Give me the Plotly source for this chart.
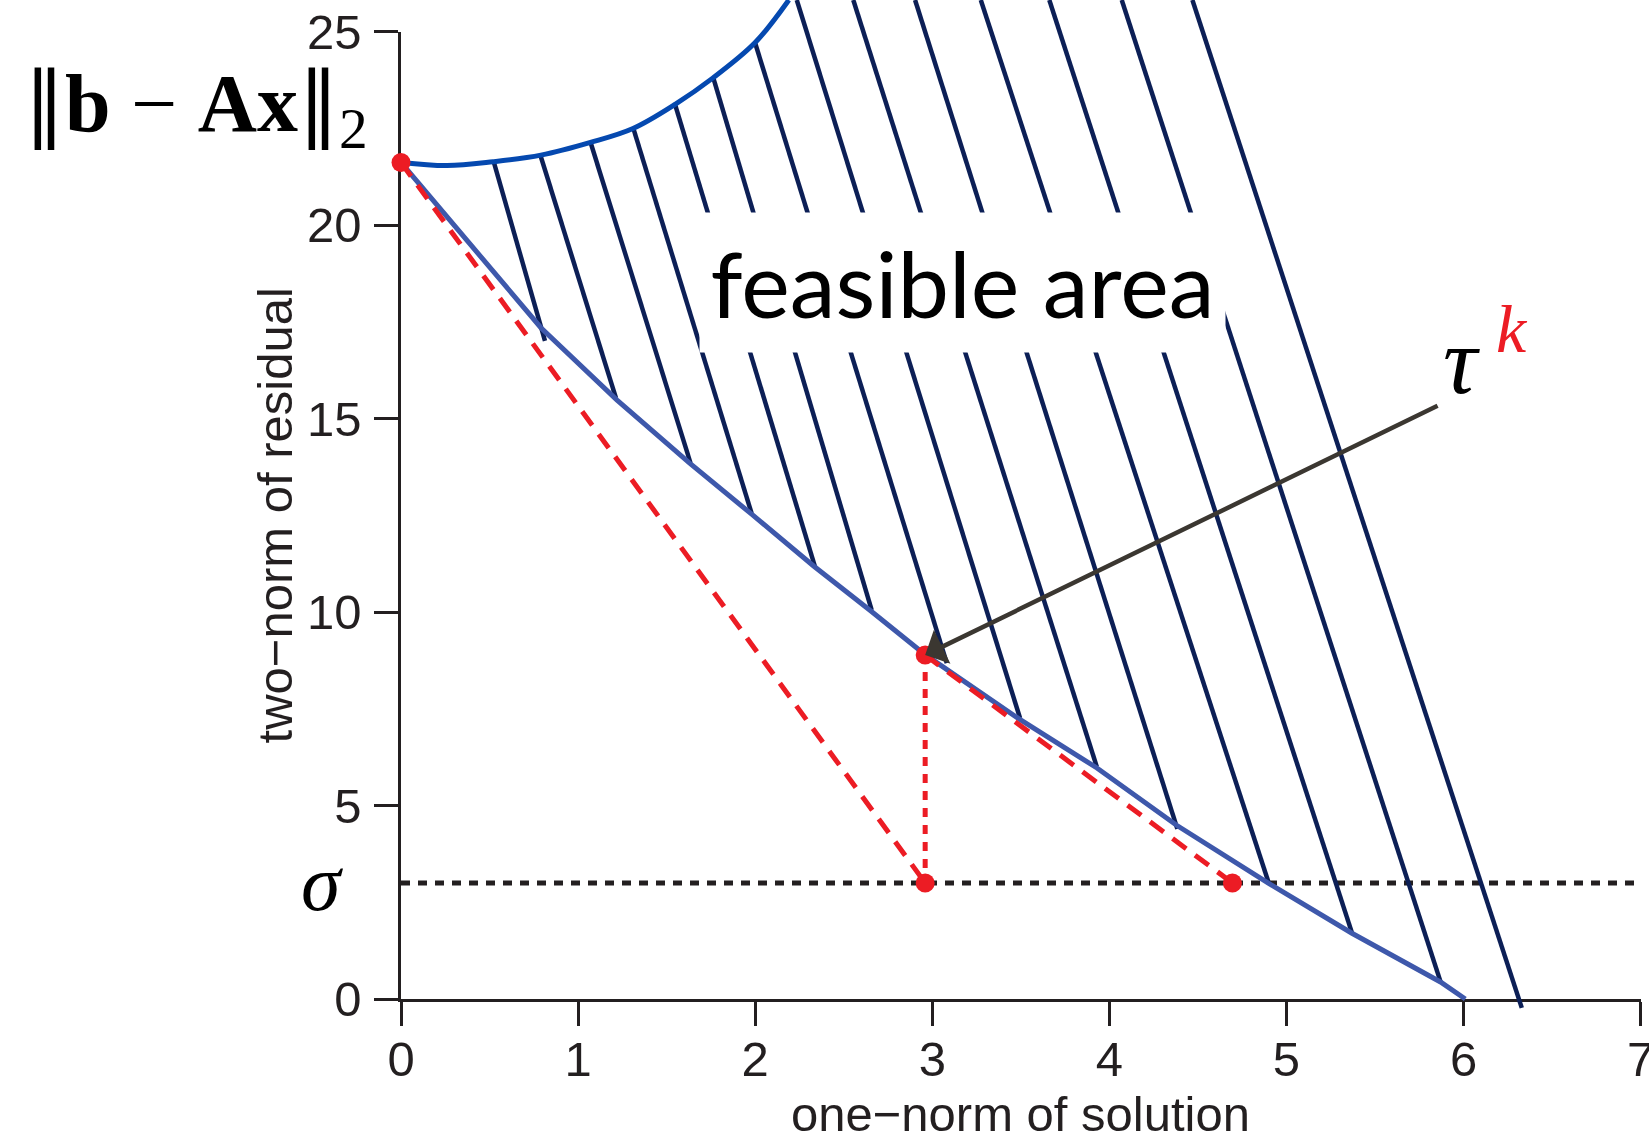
import plotly.graph_objects as go

W, H = 1649, 1136

# ---------------- data ----------------
x_tick_vals = [0, 1, 2, 3, 4, 5, 6, 7]
y_tick_vals = [0, 5, 10, 15, 20, 25]

sigma = 3.0
x_end = 7.0

# Pareto curve (lower boundary)
pareto_x = [0.00, 0.79, 1.22, 1.63, 1.98, 2.33, 2.65, 2.96, 3.49, 3.93, 4.38, 4.90, 5.37, 5.87, 6.01]
pareto_y = [21.62, 17.35, 15.48, 13.85, 12.53, 11.19, 10.04, 8.90, 7.24, 5.97, 4.49, 2.99, 1.70, 0.44, 0.00]

# upper boundary curve
upper_x = [0.00, 0.26, 0.52, 0.79, 1.07, 1.31, 1.55, 1.76, 2.00, 2.19]
upper_y = [21.62, 21.54, 21.64, 21.81, 22.14, 22.50, 23.13, 23.80, 24.72, 25.82]

# hatch segments (top end -> bottom end)
hatch_top_x = [0.521, 0.789, 1.071, 1.312, 1.547, 1.764, 1.999, 2.235, 2.554, 2.903, 3.274, 3.661, 4.070, 4.469]
hatch_top_y = [21.68, 21.78, 22.13, 22.50, 23.13, 23.80, 24.72, 25.82, 25.82, 25.82, 25.82, 25.82, 25.82, 25.82]
hatch_bot_x = [0.813, 1.214, 1.635, 1.980, 2.338, 2.658, 3.082, 3.496, 3.929, 4.384, 4.902, 5.372, 5.871, 6.329]
hatch_bot_y = [17.01, 15.53, 13.85, 12.55, 11.17, 10.05, 8.68, 7.255, 6.004, 4.397, 2.972, 1.683, 0.437, -0.23]

# key points
start_x, start_y = 0.0, 21.62
tau_x, tau_y = 2.96, 8.89
right_x = 4.695

# ---------------- styles ----------------
NAVY = "#0C1F56"
PARETO = "#3E58AB"
UPPER = "#0549B0"
RED = "#EC1C24"
AX = "#231F20"
SANS = "Liberation Sans, Arial, sans-serif"
SERIF = "Liberation Serif, DejaVu Serif, serif"

fig = go.Figure()

# sigma level (on the real axes)
fig.add_trace(go.Scatter(x=[0, x_end], y=[sigma, sigma], mode="lines",
                         line=dict(color=AX, width=5, dash="9px,8px"),
                         xaxis="x", yaxis="y", hoverinfo="skip"))

# hatch lines
hx, hy = [], []
for tx, ty, bx, by in zip(hatch_top_x, hatch_top_y, hatch_bot_x, hatch_bot_y):
    hx += [tx, bx, None]
    hy += [ty, by, None]
fig.add_trace(go.Scatter(x=hx, y=hy, mode="lines", line=dict(color=NAVY, width=4.5),
                         xaxis="x2", yaxis="y2", hoverinfo="skip"))

fig.add_trace(go.Scatter(x=upper_x, y=upper_y, mode="lines", line=dict(color=UPPER, width=5, shape="spline"),
                         xaxis="x2", yaxis="y2", hoverinfo="skip"))
fig.add_trace(go.Scatter(x=pareto_x, y=pareto_y, mode="lines", line=dict(color=PARETO, width=5),
                         xaxis="x2", yaxis="y2", hoverinfo="skip"))

# red construction lines
fig.add_trace(go.Scatter(x=[start_x, tau_x], y=[start_y, sigma], mode="lines",
                         line=dict(color=RED, width=5, dash="17px,11px"),
                         xaxis="x2", yaxis="y2", hoverinfo="skip"))
fig.add_trace(go.Scatter(x=[tau_x, right_x], y=[tau_y, sigma], mode="lines",
                         line=dict(color=RED, width=5, dash="17px,11px"),
                         xaxis="x2", yaxis="y2", hoverinfo="skip"))
fig.add_trace(go.Scatter(x=[tau_x, tau_x], y=[tau_y, sigma], mode="lines",
                         line=dict(color=RED, width=5, dash="9px,8px"),
                         xaxis="x2", yaxis="y2", hoverinfo="skip"))
fig.add_trace(go.Scatter(x=[start_x, tau_x, tau_x, right_x], y=[start_y, tau_y, sigma, sigma],
                         mode="markers", marker=dict(color=RED, size=19),
                         xaxis="x2", yaxis="y2", hoverinfo="skip", cliponaxis=False))

# ---------------- axes ----------------
x_px0, x_px1 = 401.0, 1640.6
y_px0, y_px1 = 999.0, 31.7
sx = (x_px1 - x_px0) / 7.0
sy = (y_px0 - y_px1) / 25.0

common = dict(showgrid=False, zeroline=False, showline=True, linecolor=AX, linewidth=2.5,
              ticks="outside", ticklen=24, tickwidth=2.5, tickcolor=AX, automargin=False,
              ticklabeloverflow="allow",
              tickfont=dict(family=SANS, size=49, color=AX))

fig.update_layout(
    width=W, height=H, margin=dict(l=0, r=0, t=0, b=0, pad=0, autoexpand=False),
    paper_bgcolor="white", plot_bgcolor="rgba(0,0,0,0)", showlegend=False,
    xaxis=dict(domain=[x_px0 / W, x_px1 / W], range=[0, 7], tickvals=x_tick_vals, anchor="y",
               ticklabelstandoff=-9, **common),
    yaxis=dict(domain=[1 - y_px0 / H, 1 - y_px1 / H], range=[0, 25], tickvals=y_tick_vals, anchor="x",
               ticklabelstandoff=3, **common),
    xaxis2=dict(domain=[0, 1], range=[-x_px0 / sx, (W - x_px0) / sx], visible=False, anchor="y2", automargin=False),
    yaxis2=dict(domain=[0, 1], range=[-(H - y_px0) / sy, y_px0 / sy], visible=False, anchor="x2", automargin=False),
)

ann = []
# axis titles
ann.append(dict(text="one\u2212norm of solution", x=3.5, y=-2.98, xref="x2", yref="y2",
                showarrow=False, font=dict(family=SANS, size=49, color=AX), xanchor="center", yanchor="middle"))
ann.append(dict(text="two\u2212norm of residual", x=-0.709, y=12.51, xref="x2", yref="y2", textangle=-90,
                showarrow=False, font=dict(family=SANS, size=49, color=AX), xanchor="center", yanchor="middle"))
# ||b - Ax||_2
ann.append(dict(text="<span style='font-family:DejaVu Serif'>\u2016</span><b>b</b> \u2212 <b>Ax</b>"
                     "<span style='font-family:DejaVu Serif'>\u2016</span><sub>2</sub>",
                x=-1.16, y=23.05, xref="x2", yref="y2",
                showarrow=False, font=dict(family=SERIF, size=82, color="black"), xanchor="center", yanchor="middle"))
# sigma
ann.append(dict(text="<i>\u03c3</i>", x=-0.446, y=sigma, xref="x2", yref="y2",
                showarrow=False, font=dict(family=SERIF, size=80, color="black"), xanchor="center", yanchor="middle"))
# feasible area
ann.append(dict(text="feasible area", x=3.171, y=18.52, xref="x2", yref="y2", showarrow=False,
                font=dict(family="Lato, sans-serif", size=92, color="black"),
                bgcolor="white", width=525, height=139, borderpad=0, align="center", valign="middle"))
# arrow to tau^k
ann.append(dict(text="", x=tau_x, y=tau_y, ax=5.862, ay=15.35, xref="x2", yref="y2", axref="x2", ayref="y2",
                showarrow=True, arrowhead=1, arrowsize=1.4, arrowwidth=4.5, arrowcolor="#3B3731", standoff=0))
# tau and k
ann.append(dict(text="<i>\u03c4</i>", x=5.99, y=16.48, xref="x2", yref="y2", showarrow=False,
                font=dict(family=SERIF, size=95, color="black"), xanchor="center", yanchor="middle"))
ann.append(dict(text="<i>k</i>", x=6.274, y=17.32, xref="x2", yref="y2", showarrow=False,
                font=dict(family=SERIF, size=68, color=RED), xanchor="center", yanchor="middle"))

fig.update_layout(annotations=ann)

fig.write_html("out.html")
